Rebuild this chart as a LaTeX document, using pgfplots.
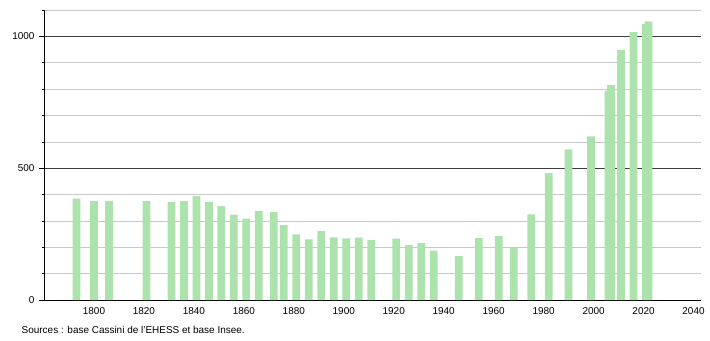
\documentclass[border=0pt]{standalone}
\usepackage{pgfplots}
\pgfplotsset{compat=1.18}
\usepackage{fontspec}
\setmainfont{Liberation Sans}
\definecolor{barfill}{RGB}{172,226,172}
\definecolor{gridgray}{RGB}{200,200,200}
\definecolor{griddark}{RGB}{60,60,60}
\begin{document}
\begin{tikzpicture}[x=1bp,y=1bp]
\path (0,0) rectangle (710,340);
\begin{axis}[
  at={(44bp,40bp)}, anchor=south west,
  scale only axis, width=657bp, height=290bp,
  xmin=1780, xmax=2043, ymin=0, ymax=1100,
  axis x line=bottom, axis y line=left,
  axis line style={-, black, line width=0.8pt},
  xtick={1800,1820,...,2040},
  ytick={0,500,1000},
  minor ytick={100,200,300,400,600,700,800,900,1100},
  x tick style={draw=none},
  tick align=outside,
  major tick length=5bp, minor tick length=1.8bp,
  y tick style={black, line width=0.6pt},
  ymajorgrids, yminorgrids,
  major grid style={griddark, line width=0.6pt},
  minor grid style={gridgray, line width=0.6pt},
  tick label style={font=\fontsize{10}{11}\selectfont},
  xticklabel style={yshift=1bp},
  yticklabel style={xshift=-1bp},
  /pgf/number format/assume math mode=true,
  /pgf/number format/1000 sep={},
  ybar, bar width=3.1, bar shift=0pt,
  clip=false,
]
\addplot[draw=none, fill=barfill] coordinates {
(1793,385) (1800,375) (1806,376) (1821,375) (1831,371) (1836,375) (1841,394)
(1846,371) (1851,356) (1856,324) (1861,309) (1866,338) (1872,333) (1876,284)
(1881,249) (1886,230) (1891,262) (1896,238) (1901,234) (1906,237) (1911,227)
(1921,233) (1926,208) (1931,216) (1936,187) (1946,166) (1954,235) (1962,242)
(1968,197) (1975,325) (1982,481) (1990,571) (1999,621) (2006,793) (2007,815)
(2011,948) (2016,1016) (2021,1046) (2022,1057)
};
\end{axis}
\node[anchor=base west, font=\fontsize{10}{11}\selectfont, inner sep=0pt] at (21.5,6.7) {Sources : base Cassini de l'EHESS et base Insee.};
\end{tikzpicture}
\end{document}
